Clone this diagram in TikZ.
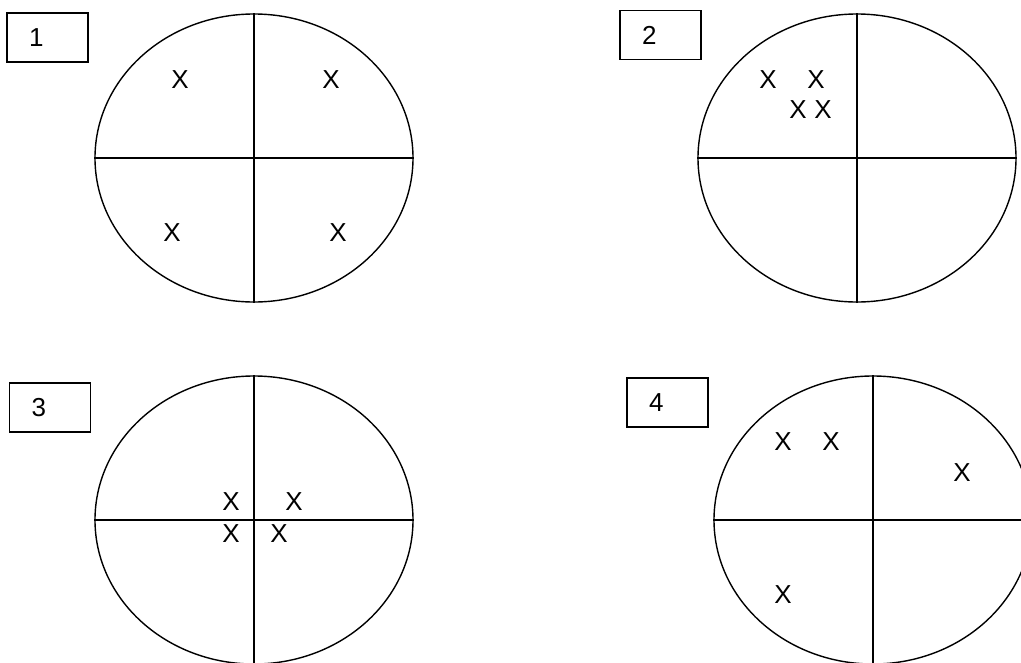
\documentclass[tikz,border=0pt]{standalone}
\usepackage{fontspec}
\setmainfont{Liberation Sans}
\usetikzlibrary{shapes.geometric}

\tikzset{
	numbox/.style={draw, rectangle, black, line width=1.1pt, minimum width=81pt, minimum height=49pt, text width=37pt, inner xsep=22pt, inner ysep=0pt, align=left, font=\fontsize{26}{26}\selectfont},
	quad/.style={draw, ellipse, black, line width=1.4pt, minimum width=318pt, minimum height=288pt, inner sep=0pt},
	xmark/.style={inner sep=0pt, font=\fontsize{26}{26}\selectfont},
	axis/.style={line width=1.4pt}
}

\begin{document}
\begin{tikzpicture}[x=1pt,y=-1pt]
	\useasboundingbox (0,0) rectangle (1021,662);

	% panel 1
	\node [name=box1, numbox] at (47.5,37.5) {\raisebox{-2pt}{1}};
	\node [name=ell1, quad] at (254,158) {};
	\draw [axis] (ell1.north) -- (ell1.south);
	\draw [axis] (ell1.west) -- (ell1.east);
	\node [name=x11, xmark] at (180,80) {X};
	\node [name=x12, xmark] at (331,80) {X};
	\node [name=x13, xmark] at (172,233) {X};
	\node [name=x14, xmark] at (338,233) {X};

	% panel 2
	\node [name=box2, numbox] at (660.5,35) {\raisebox{-2pt}{2}};
	\node [name=ell2, quad] at (857,158) {};
	\draw [axis] (ell2.north) -- (ell2.south);
	\draw [axis] (ell2.west) -- (ell2.east);
	\node [name=x21, xmark] at (768,80) {X};
	\node [name=x22, xmark] at (816,80) {X};
	\node [name=x23, xmark] at (798,110) {X};
	\node [name=x24, xmark] at (823,110) {X};

	% panel 3
	\node [name=box3, numbox] at (50,407.5) {\raisebox{-2pt}{3}};
	\node [name=ell3, quad] at (254,520) {};
	\draw [axis] (ell3.north) -- (ell3.south);
	\draw [axis] (ell3.west) -- (ell3.east);
	\node [name=x31, xmark] at (231,502) {X};
	\node [name=x32, xmark] at (294,502) {X};
	\node [name=x33, xmark] at (231,534) {X};
	\node [name=x34, xmark] at (279,534) {X};

	% panel 4
	\node [name=box4, numbox] at (667.5,402.5) {\raisebox{-2pt}{4}};
	\node [name=ell4, quad] at (873,520) {};
	\draw [axis] (ell4.north) -- (ell4.south);
	\draw [axis] (ell4.west) -- (ell4.east);
	\node [name=x41, xmark] at (783,442) {X};
	\node [name=x42, xmark] at (831,442) {X};
	\node [name=x43, xmark] at (962,473) {X};
	\node [name=x44, xmark] at (783,595) {X};

\end{tikzpicture}
\end{document}
